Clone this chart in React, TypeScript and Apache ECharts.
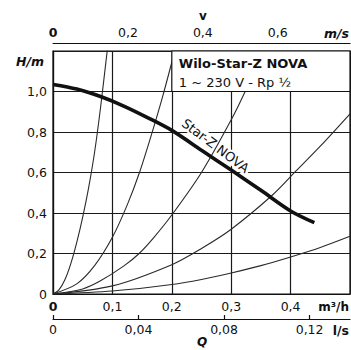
import React, { useEffect, useRef } from "react";
import * as echarts from "echarts";

// Tick values
const flowTicks = [0, 0.1, 0.2, 0.3, 0.4]; // m³/h
const litreTicks = [0, 0.04, 0.08, 0.12]; // l/s
const speedTicks = [0, 0.2, 0.4, 0.6]; // m/s
const headTicks = [0, 0.2, 0.4, 0.6, 0.8, 1.0]; // m

// Pump curve Star-Z NOVA  [Q m³/h, H m]
const pumpCurve = [
  [0, 1.035], [0.04, 1.012], [0.08, 0.975], [0.12, 0.927], [0.16, 0.87],
  [0.2, 0.808], [0.25, 0.71], [0.3, 0.612], [0.35, 0.512], [0.4, 0.41], [0.44, 0.352],
];

// System curves (thin)
const systemA = [
  [0, 0], [0.01, 0.02], [0.02, 0.07], [0.03, 0.15], [0.04, 0.255], [0.05, 0.38],
  [0.06, 0.525], [0.07, 0.7], [0.08, 0.92], [0.092, 1.22],
];
const systemB = [
  [0, 0], [0.04, 0.05], [0.07, 0.14], [0.1, 0.28], [0.125, 0.44], [0.145, 0.595],
  [0.165, 0.78], [0.185, 0.98], [0.205, 1.2],
];
const systemC = [
  [0, 0], [0.05, 0.025], [0.08, 0.065], [0.12, 0.14], [0.145, 0.2], [0.17, 0.28],
  [0.2, 0.39], [0.25, 0.6], [0.3, 0.86], [0.325, 1.01], [0.353, 1.2],
];
const systemD = [
  [0, 0], [0.1, 0.04], [0.2, 0.145], [0.25, 0.225], [0.3, 0.32], [0.37, 0.49],
  [0.41, 0.61], [0.45, 0.73], [0.5, 0.89],
];
const systemE = [
  [0, 0], [0.1, 0.015], [0.2, 0.047], [0.25, 0.072], [0.3, 0.104], [0.35, 0.14],
  [0.4, 0.183], [0.45, 0.23], [0.5, 0.285],
];
const systemCurves = [systemA, systemB, systemC, systemD, systemE];

const pumpLabel = "Star-Z NOVA";
const pumpLabelPos = [0.2736, 0.732];
const titleBox = [[0.2, 1.2], [0.5, 1.0]];
const titleLines = ["Wilo-Star-Z NOVA", "1 ~ 230 V - Rp ½"];

const FONT = "DejaVu Sans";
const FS = 12.5;
const TXT = "#111";

const fmt = (dec: number) => (v: number) =>
  Math.abs(v) < 1e-9 ? "0" : v.toFixed(dec).replace(".", ",");
const fmtBoldZero = (dec: number) => (v: number) =>
  Math.abs(v) < 1e-9 ? "{b|0}" : v.toFixed(dec).replace(".", ",");

export default function App() {
  const ref = useRef<HTMLDivElement>(null);
  useEffect(() => {
    if (!ref.current) return;
    const chart = echarts.init(ref.current, null, { renderer: "svg" });
    const labelBase = { fontFamily: FONT, fontSize: FS, color: TXT };
    const option: any = {
      animation: false,
      backgroundColor: "#fff",
      textStyle: { fontFamily: FONT },
      grid: {
        left: 53, top: 51, right: 1, bottom: 56,
        show: true, borderColor: "#111", borderWidth: 1.2, backgroundColor: "transparent",
      },
      xAxis: [
        {
          type: "value", position: "bottom", min: 0, max: 0.5, interval: 0.1,
          axisLine: { show: true, lineStyle: { color: "#111", width: 1.2 } },
          axisTick: { show: false },
          splitLine: { show: true, lineStyle: { color: "#1a1a1a", width: 1.2 } },
          axisLabel: {
            ...labelBase, margin: 6, customValues: flowTicks,
            formatter: fmtBoldZero(1),
            rich: { b: { ...labelBase, fontWeight: "bold" } },
          },
        },
        {
          type: "value", position: "bottom", offset: 25, min: 0, max: 0.5 / 3.6, interval: 0.04,
          axisLine: { show: true, lineStyle: { color: "#111", width: 1.2 } },
          axisTick: { show: true, inside: true, length: 4, customValues: litreTicks, lineStyle: { color: "#111", width: 1.2 } },
          splitLine: { show: false },
          axisLabel: { ...labelBase, margin: 4, customValues: litreTicks, formatter: fmt(2) },
        },
        {
          type: "value", position: "top", offset: 8, min: 0, max: 0.7928, interval: 0.2,
          axisLine: { show: true, lineStyle: { color: "#111", width: 1.2 } },
          axisTick: { show: false },
          splitLine: { show: false },
          axisLabel: {
            ...labelBase, margin: 4, customValues: speedTicks,
            formatter: fmtBoldZero(1),
            rich: { b: { ...labelBase, fontWeight: "bold" } },
          },
        },
      ],
      yAxis: {
        type: "value", min: 0, max: 1.2, interval: 0.2,
        axisLine: { show: true, lineStyle: { color: "#111", width: 1.2 } },
        axisTick: { show: false },
        splitLine: { show: true, lineStyle: { color: "#1a1a1a", width: 1.2 } },
        axisLabel: { ...labelBase, margin: 6, customValues: headTicks, formatter: fmt(1) },
      },
      series: [
        ...systemCurves.map((d) => ({
          type: "line", z: 2, silent: true, showSymbol: false, smooth: 0.3,
          data: d, lineStyle: { color: "#2a2a2a", width: 1.1 },
        })),
        {
          type: "line", z: 4, silent: true, showSymbol: false, smooth: 0.3,
          data: pumpCurve, lineStyle: { color: "#111", width: 3.6 },
          markArea: {
            silent: true, z: 5,
            itemStyle: { color: "#fff", borderColor: "#111", borderWidth: 1.2 },
            label: { show: false },
            data: [[{ coord: titleBox[0] }, { coord: titleBox[1] }]],
          },
        },
      ],
    };
    chart.setOption(option);

    const corner = chart.convertToPixel({ xAxisIndex: 0, yAxisIndex: 0 }, titleBox[0]) as number[];
    const lp = chart.convertToPixel({ xAxisIndex: 0, yAxisIndex: 0 }, pumpLabelPos) as number[];
    const txt = (extra: any) => ({ type: "text", z: 100, ...extra });
    chart.setOption({
      graphic: [
        {
          type: "text", z: 1, x: lp[0], y: lp[1], rotation: (-37 * Math.PI) / 180,
          style: {
            text: pumpLabel, fontFamily: FONT, fontSize: 13, fill: "#111",
            align: "center", verticalAlign: "middle",
            backgroundColor: "#fff", padding: [0, 2],
          },
        },
        txt({ x: corner[0] + 7, y: corner[1] + 12.5, style: { text: titleLines[0], fontFamily: FONT, fontSize: 13, fontWeight: "bold", fill: "#111", align: "left", verticalAlign: "middle" } }),
        txt({ x: corner[0] + 7, y: corner[1] + 31, style: { text: titleLines[1], fontFamily: FONT, fontSize: 13, fill: "#111", align: "left", verticalAlign: "middle" } }),
        txt({ x: 30, y: 61, style: { text: "H/m", fontFamily: FONT, fontSize: 12.5, fontWeight: "bold", fontStyle: "italic", fill: "#111", align: "center", verticalAlign: "middle" } }),
        txt({ x: 349, y: 33, style: { text: "m/s", fontFamily: FONT, fontSize: 12.5, fontWeight: "bold", fontStyle: "italic", fill: "#111", align: "right", verticalAlign: "middle" } }),
        txt({ x: 203, y: 16, style: { text: "v", fontFamily: FONT, fontSize: 12, fontWeight: "bold", fill: "#111", align: "center", verticalAlign: "middle" } }),
        txt({ x: 349, y: 306.5, style: { text: "m³/h", fontFamily: FONT, fontSize: 12, fontWeight: "bold", fill: "#111", align: "right", verticalAlign: "middle" } }),
        txt({ x: 349, y: 330, style: { text: "l/s", fontFamily: FONT, fontSize: 12.5, fontWeight: "bold", fill: "#111", align: "right", verticalAlign: "middle" } }),
        txt({ x: 202, y: 342, style: { text: "Q", fontFamily: FONT, fontSize: 12, fontWeight: "bold", fontStyle: "italic", fill: "#111", align: "center", verticalAlign: "middle" } }),
      ],
    });
    return () => chart.dispose();
  }, []);
  return (
    <div
      ref={ref}
      style={{ position: "fixed", left: 0, top: 0, width: 351, height: 350 }}
    />
  );
}
